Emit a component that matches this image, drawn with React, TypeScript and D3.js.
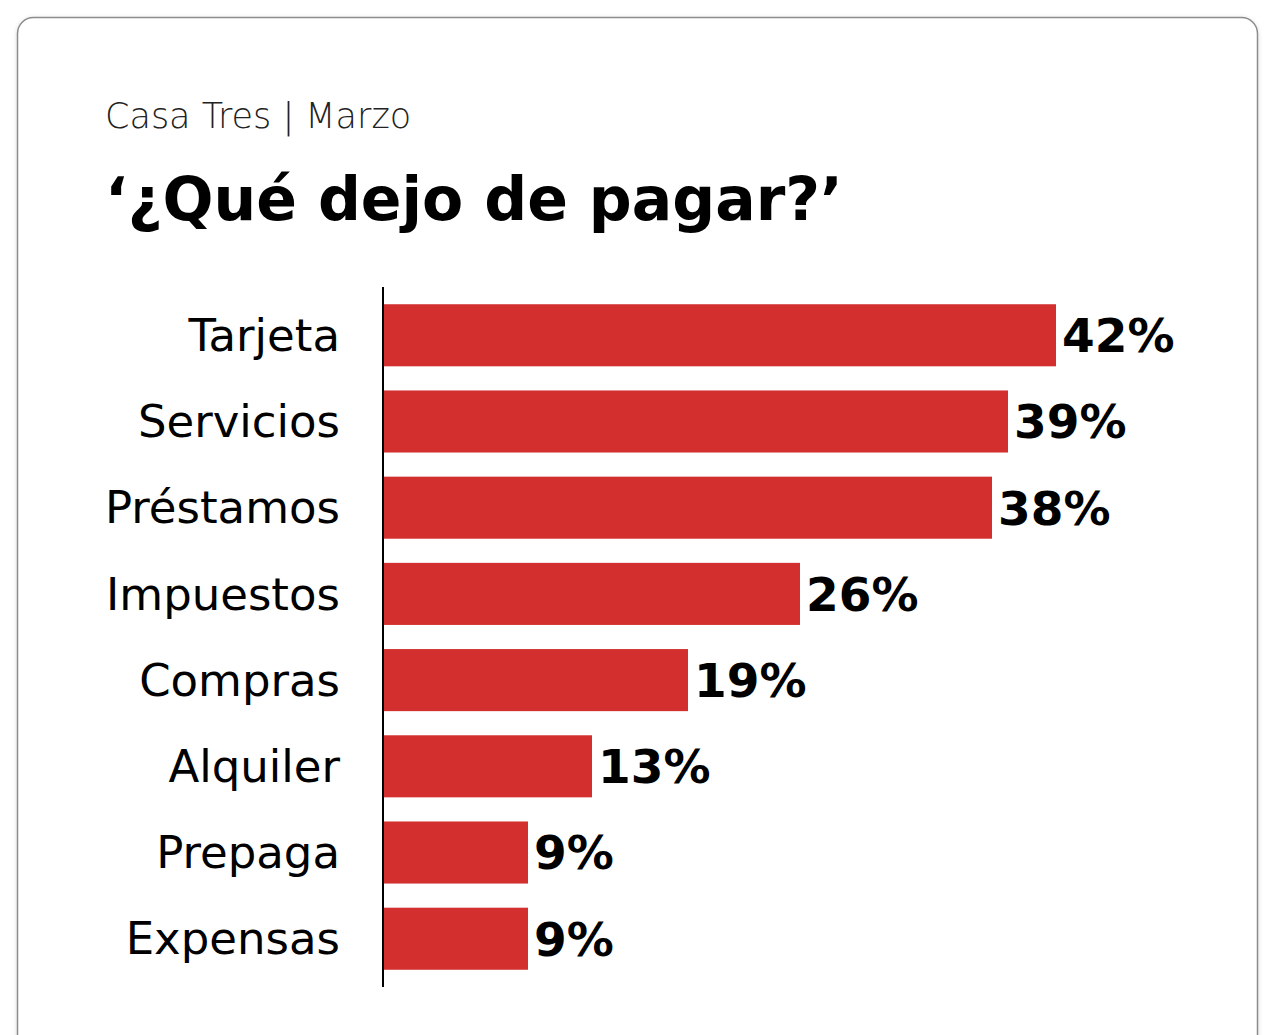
import React from "react";
import * as d3 from "d3";

// datos
const categories = ["Tarjeta", "Servicios", "Préstamos", "Impuestos", "Compras", "Alquiler", "Prepaga", "Expensas"];
const values = [42, 39, 38, 26, 19, 13, 9, 9];
const subtitle = "Casa Tres | Marzo";
const title = "‘¿Qué dejo de pagar?’";

const W = 1271;
const H = 1035;
const FONT = "'DejaVu Sans', sans-serif";

const App = () => {
  const x0 = 384;
  const x = d3.scaleLinear().domain([0, 42]).range([x0, 1056]);
  const y = d3.scaleBand<string>().domain(categories).range([287, 987]).paddingInner(0.28).paddingOuter(0.2);

  return (
    <svg width={W} height={H} style={{ position: "absolute", left: 0, top: 0, background: "#fff" }}>
      <defs>
        <filter id="sh" x="-5%" y="-5%" width="110%" height="110%">
          <feDropShadow dx="0" dy="1" stdDeviation="2" floodColor="#000" floodOpacity="0.15" />
        </filter>
      </defs>
      <rect x={17.5} y={17.5} width={1240} height={1060} rx={16} fill="#fff" stroke="#8c8c8c" strokeWidth={1.5} filter="url(#sh)" />

      <text x={105} y={128} fontFamily={FONT} fontSize={35} fontWeight={300} fill="#222">{subtitle}</text>
      <text x={105} y={220} fontFamily={FONT} fontSize={60} fontWeight={700} fill="#000">{title}</text>

      {categories.map((c, i) => {
        const yy = y(c)!;
        const bh = y.bandwidth();
        return (
          <g key={c}>
            <rect x={x0} y={yy} width={x(values[i]) - x0} height={bh} fill="#d32f2f" />
            <text x={340} y={yy + bh / 2} dy="0.35em" textAnchor="end" fontFamily={FONT} fontSize={45} fill="#000">{c}</text>
            <text x={x(values[i]) + 6} y={yy + bh / 2} dy="0.36em" fontFamily={FONT} fontSize={47} fontWeight={700} fill="#000">{values[i]}%</text>
          </g>
        );
      })}

      <line x1={383} x2={383} y1={287} y2={987} stroke="#000" strokeWidth={2} />
    </svg>
  );
};

export default App;
